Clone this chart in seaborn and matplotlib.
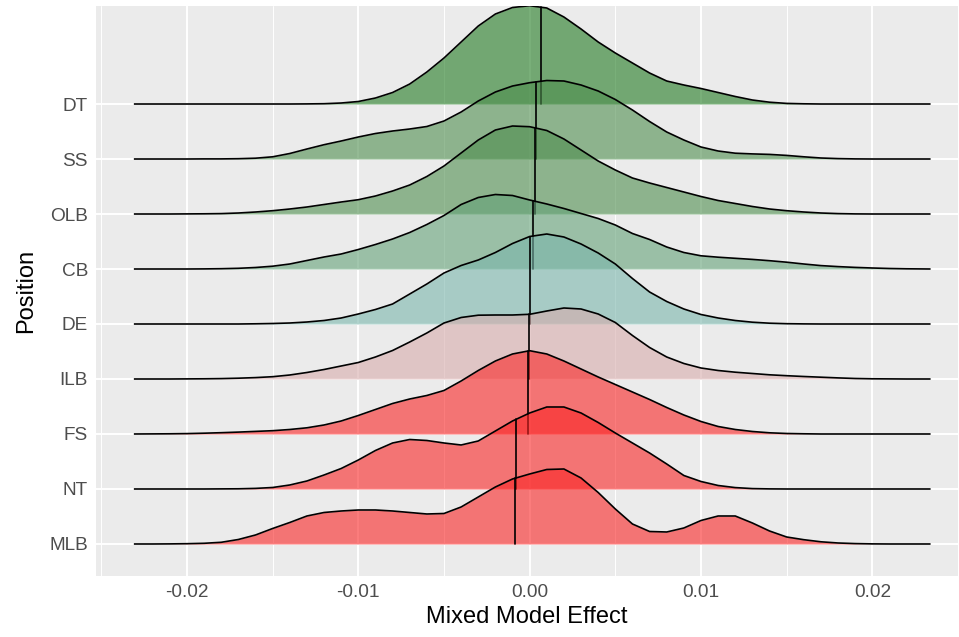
import numpy as np
import pandas as pd
import matplotlib
matplotlib.use("Agg")
import matplotlib.pyplot as plt
import seaborn as sns

# ─────────────────────────────────────────
# DATA (ridge heights, in 1/55 of a row step)
# ─────────────────────────────────────────

positions = ["MLB", "NT", "FS", "ILB", "DE", "CB", "OLB", "SS", "DT"]

x_grid = [-0.0231, -0.022, -0.021, -0.020, -0.019, -0.018, -0.017, -0.016,
          -0.015, -0.014, -0.013, -0.012, -0.011, -0.010, -0.009, -0.008,
          -0.007, -0.006, -0.005, -0.004, -0.003, -0.002, -0.001, 0.000,
          0.001, 0.002, 0.003, 0.004, 0.005, 0.006, 0.007, 0.008,
          0.009, 0.010, 0.011, 0.012, 0.013, 0.014, 0.015, 0.016,
          0.017, 0.018, 0.019, 0.020, 0.021, 0.022, 0.0234]

dt_h = [0, 0, 0, 0, 0, 0, 0, 0, 0, 0, 0.1, 0.3, 1, 2.5, 6, 11.5,
        20, 32, 46, 62, 78, 90, 96.5, 98.3, 96, 87, 75, 62, 51, 41, 31, 23,
        19, 15.5, 11.5, 7.5, 4, 1.8, 0.6, 0.2, 0, 0, 0, 0, 0, 0, 0]
ss_h = [0, 0, 0, 0, 0.1, 0.1, 0.3, 0.8, 2.2, 5.5, 10, 14.3, 18, 22, 25.5, 28,
        30, 32.5, 38, 47, 58, 67, 73, 76.3, 78.5, 78, 74, 68, 59.5, 49, 37.5, 27,
        19, 12, 8, 5.8, 5.1, 4.6, 3.6, 2.2, 1, 0.4, 0.1, 0, 0, 0, 0]
olb_h = [0, 0, 0, 0.1, 0.2, 0.4, 1, 2, 3.3, 5, 7, 9.5, 12, 14.3, 18, 23,
         29, 37.5, 48, 61, 74, 84, 88, 87.3, 83.5, 75, 64, 53, 44, 36, 31, 26.5,
         22, 17.5, 13.5, 10.5, 7.5, 5, 3.3, 2, 1, 0.4, 0.1, 0, 0, 0, 0]
cb_h = [0, 0, 0, 0, 0.1, 0.3, 0.7, 1.5, 2.8, 5, 8.5, 12, 15, 19.5, 24.5, 30,
        36.5, 44.5, 53.5, 64.5, 71.5, 74.5, 73.5, 69, 65, 60.5, 55.5, 50.5, 44, 35.5, 29.5, 22,
        16.5, 13.2, 11.8, 10.7, 9.6, 8.3, 6.8, 5, 3.4, 2.4, 1.6, 1, 0.5, 0.2, 0]
de_h = [0, 0, 0, 0, 0, 0, 0, 0.2, 0.5, 1, 2, 3.5, 6, 10, 14.5, 20,
        30, 40, 51, 58.5, 64, 71.5, 80.5, 87.5, 90, 87, 80, 71, 60, 45.5, 32, 22.5,
        15, 9.5, 6, 3.5, 1.8, 0.8, 0.3, 0.1, 0, 0, 0, 0, 0, 0, 0]
ilb_h = [0, 0, 0, 0.1, 0.2, 0.4, 0.8, 1.4, 2.3, 4, 6.5, 9.5, 13, 16.5, 22, 28.5,
         37, 46, 56, 61.5, 63.8, 64, 64, 64.7, 68, 71, 70, 65, 56.5, 43.5, 31.5, 22,
         15.5, 11, 8.5, 6.8, 5.5, 4.2, 3.3, 2.5, 1.8, 1.1, 0.5, 0.2, 0.1, 0, 0]
fs_h = [0, 0.1, 0.2, 0.4, 0.8, 1.3, 1.9, 2.6, 3.3, 4.5, 6.2, 9, 13, 18.5, 24.5, 30.5,
        35, 38.5, 43.5, 53, 63.5, 73, 80, 83.3, 80, 73, 65, 57, 49.5, 42, 34.5, 26.5,
        19, 12.5, 7.5, 4.5, 2.5, 1.2, 0.5, 0.2, 0, 0, 0, 0, 0, 0, 0]
nt_h = [0, 0, 0, 0, 0, 0.1, 0.2, 0.6, 1.5, 4, 8, 14, 20.5, 29, 38.5, 46,
        49.5, 48.5, 46, 44, 48, 58, 68, 76, 82, 82, 76, 66.5, 56, 46, 36, 25,
        13.5, 7.5, 3.5, 1.4, 0.4, 0.1, 0, 0, 0, 0, 0, 0, 0, 0, 0]
mlb_h = [0, 0, 0.1, 0.3, 0.7, 1.7, 4.5, 9, 15.5, 21.5, 28, 31.5, 33, 34, 34, 33,
         31.5, 30, 30.5, 37, 47, 57, 65, 70, 74.5, 75, 66, 51.5, 35, 20, 12.5, 12,
         16, 23.5, 28, 28, 21, 13, 7, 4.3, 2.2, 1, 0.4, 0.1, 0, 0, 0]

heights = [mlb_h, nt_h, fs_h, ilb_h, de_h, cb_h, olb_h, ss_h, dt_h]

# median effect per position (vertical quantile line)
medians = [-0.00086, -0.0008, -0.0001, -0.00006, 0.0, 0.00018, 0.00031, 0.00039, 0.00064]

fill_colors = ["#fa2525", "#fa2525", "#fa2525", "#d7acac", "#7bb6ac",
               "#64a278", "#4e8e4e", "#4e8e4e", "#217b21"]

x_ticks = [-0.02, -0.01, 0.00, 0.01, 0.02]
x_tick_labels = ["-0.02", "-0.01", "0.00", "0.01", "0.02"]

# ─────────────────────────────────────────
# PLOT
# ─────────────────────────────────────────

sns.set_theme(style="darkgrid", rc={
    "axes.facecolor": "#EBEBEB",
    "grid.color": "white",
    "axes.edgecolor": "#EBEBEB",
})
plt.rcParams["font.family"] = ["Liberation Sans", "DejaVu Sans"]

ridge_px = 55.0   # heights above are in pixels of a 55 px row step
alpha = 0.6

df = pd.DataFrame({
    "x": np.tile(x_grid, len(positions)),
    "h": np.concatenate([np.array(h, dtype=float) for h in heights]) / ridge_px,
    "pos": np.repeat(positions, len(x_grid)),
})
df["row"] = df["pos"].map({p: i + 1 for i, p in enumerate(positions)})
df["y"] = df["row"] + df["h"]

fig, ax = plt.subplots(figsize=(9.59, 6.37), dpi=100)
fig.subplots_adjust(left=96 / 959, right=958 / 959, bottom=61 / 637, top=631 / 637)

# draw from top (DT) to bottom (MLB) so lower ridges sit in front
for i in range(len(positions) - 1, -1, -1):
    pos = positions[i]
    sub = df[df["pos"] == pos]
    z = 3 + (len(positions) - i)
    base = i + 1
    ax.fill_between(sub["x"], base, sub["y"], color=fill_colors[i], alpha=alpha,
                    linewidth=0, zorder=z)
    sns.lineplot(x=sub["x"].values, y=sub["y"].values, ax=ax, color="black",
                 linewidth=1.2, estimator=None, sort=False, zorder=z + 0.5,
                 solid_joinstyle="round", solid_capstyle="butt")
    top = base + np.interp(medians[i], x_grid, heights[i]) / ridge_px
    ax.plot([medians[i], medians[i]], [base, top], color="black", linewidth=1.2,
            zorder=z + 0.5)

ax.set_xlim(-0.02531, 0.02496)
ax.set_ylim(0.418, 10.782)
ax.set_xticks(x_ticks)
ax.set_xticklabels(x_tick_labels)
ax.set_xticks([-0.025, -0.015, -0.005, 0.005, 0.015, 0.025], minor=True)
ax.set_yticks(range(1, len(positions) + 1))
ax.set_yticklabels(positions)

ax.grid(which="major", color="white", linewidth=1.4)
ax.grid(which="minor", axis="x", color="white", linewidth=0.7)
ax.set_axisbelow(True)
for s in ax.spines.values():
    s.set_visible(False)

ax.tick_params(axis="both", which="major", length=3.2, width=1.0, color="#333333",
               labelsize=13.7, labelcolor="#4D4D4D", pad=2.5)
ax.tick_params(axis="both", which="minor", length=0)

ax.set_xlabel("Mixed Model Effect", fontsize=17, color="black", labelpad=4)
ax.set_ylabel("Position", fontsize=17, color="black", labelpad=9)

plt.savefig("out.png", dpi=100)
print("Saved out.png")
